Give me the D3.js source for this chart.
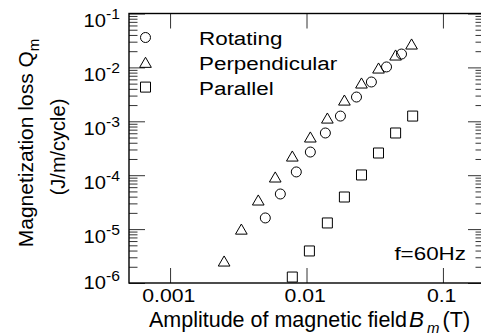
<!DOCTYPE html>
<html>
<head>
<meta charset="utf-8">
<script src="https://cdn.jsdelivr.net/npm/d3@7"></script>
<style>
  html, body { margin: 0; padding: 0; background: #fff; }
  svg { display: block; }
</style>
</head>
<body>
<svg id="chart" width="481" height="336"></svg>
<script>
// ── Data ─────────────────────────────────────────────────────────────────────
const rotB  = [0.00499, 0.00643, 0.00842, 0.01067, 0.01375, 0.01773, 0.02325, 0.0299, 0.0386, 0.0497]
const rotQ  = [1.61e-5, 4.48e-5, 1.15e-4, 2.69e-4, 6.07e-4, 1.25e-3, 2.82e-3, 5.36e-3, 1.02e-2, 1.77e-2]
const perpB = [0.00249, 0.00333, 0.00443, 0.0059, 0.00787, 0.01067, 0.01422, 0.01896, 0.02529, 0.03373, 0.04497, 0.0589]
const perpQ = [2.56e-6, 1.0e-5, 3.47e-5, 9.27e-5, 2.27e-4, 5.12e-4, 1.15e-3, 2.48e-3, 5.14e-3, 9.75e-3, 1.70e-2, 2.72e-2]
const parB  = [0.00787, 0.0105, 0.01422, 0.01896, 0.0253, 0.0337, 0.045, 0.06]
const parQ  = [1.29e-6, 3.93e-6, 1.30e-5, 3.94e-5, 1.01e-4, 2.58e-4, 6.07e-4, 1.25e-3]

const seriesNames = ['Rotating', 'Perpendicular', 'Parallel']
const seriesShapes = ['circle', 'triangle', 'square']

const xTickValues = [0.001, 0.01, 0.1]
const xTickLabels = ['0.001', '0.01', '0.1']
const yTickValues = [1e-1, 1e-2, 1e-3, 1e-4, 1e-5, 1e-6]
const yTickExps   = ['-1', '-2', '-3', '-4', '-5', '-6']

// ── Setup ─────────────────────────────────────────────────────────────────────
const FONT = "'Liberation Sans', Arial, sans-serif"
const SX = 1.18   // text in the reference is slightly wide
const L = 129, R = 484, T = 13.5, B = 283

const svg = d3.select('#chart')
const x = d3.scaleLog().domain([5e-4, 0.2]).range([L, R])
const y = d3.scaleLog().domain([1e-6, 1e-1]).range([B, T])

const yMinor = y.ticks().filter(v => !yTickValues.some(t => Math.abs(v / t - 1) < 1e-9))

// ── Axes (ticks inside on all four sides) ─────────────────────────────────────
const tickStyle = g => {
  g.select('.domain').remove()
  g.selectAll('.tick line').attr('stroke', '#333').attr('stroke-width', 1)
}

svg.append('g').attr('transform', `translate(0,${B})`)
  .call(d3.axisBottom(x).tickValues(xTickValues).tickFormat((d, i) => xTickLabels[i])
    .tickSizeInner(-15).tickSizeOuter(0).tickPadding(6))
  .call(tickStyle)
  .call(g => g.selectAll('text')
    .attr('font-family', FONT).attr('font-size', 18).attr('fill', '#000')
    .attr('x', -1.5).attr('transform', `scale(${SX},1)`))

svg.append('g').attr('transform', `translate(0,${T})`)
  .call(d3.axisTop(x).tickValues(xTickValues).tickFormat('').tickSizeInner(-15).tickSizeOuter(0))
  .call(tickStyle)

;[[d3.axisLeft, L], [d3.axisRight, R]].forEach(([axis, pos]) => {
  svg.append('g').attr('transform', `translate(${pos},0)`)
    .call(axis(y).tickValues(yTickValues).tickFormat('').tickSizeInner(-16).tickSizeOuter(0))
    .call(tickStyle)
  svg.append('g').attr('transform', `translate(${pos},0)`)
    .call(axis(y).tickValues(yMinor).tickFormat('').tickSizeInner(-8.5).tickSizeOuter(0))
    .call(tickStyle)
})

// frame
svg.append('rect')
  .attr('x', L).attr('y', T).attr('width', R - L).attr('height', B - T)
  .attr('fill', 'none').attr('stroke', '#000').attr('stroke-width', 1.4)

// y tick labels: 10 with superscript exponent
svg.append('g').selectAll('text').data(yTickValues).join('text')
  .attr('text-anchor', 'end')
  .attr('font-family', FONT).attr('font-size', 18)
  .attr('transform', d => `translate(120,${Math.min(y(d) + 13.5, 289)}) scale(1.12,1)`)
  .each(function (d, i) {
    const t = d3.select(this)
    t.append('tspan').text('10')
    t.append('tspan').attr('font-size', 14).attr('dy', -8).text(yTickExps[i])
  })

// ── Symbols ───────────────────────────────────────────────────────────────────
const TRI_SIZE = 59
const triOffset = Math.sqrt(TRI_SIZE * 4 / Math.sqrt(3)) * Math.sqrt(3) / 2 / 6
const symbolPath = {
  circle:   d3.symbol(d3.symbolCircle, 78.5)(),
  triangle: d3.symbol(d3.symbolTriangle, TRI_SIZE)(),
  square:   d3.symbol(d3.symbolSquare, 100)(),
}
const drawSymbol = (sel, shape) => sel
  .attr('d', symbolPath[shape])
  .attr('fill', 'none').attr('stroke', '#000').attr('stroke-width', 1)

const series = [
  { shape: 'circle',   pts: d3.zip(rotB, rotQ) },
  { shape: 'triangle', pts: d3.zip(perpB, perpQ) },
  { shape: 'square',   pts: d3.zip(parB, parQ) },
]

series.forEach(s => {
  const dy = s.shape === 'triangle' ? triOffset : 0
  svg.append('g').selectAll('path').data(s.pts).join('path')
    .attr('transform', d => `translate(${x(d[0])},${y(d[1]) + dy})`)
    .call(drawSymbol, s.shape)
})

// ── Legend ────────────────────────────────────────────────────────────────────
seriesNames.forEach((name, i) => {
  const cy = 37.5 + i * 24.8
  const dy = seriesShapes[i] === 'triangle' ? triOffset : 0
  svg.append('path')
    .attr('transform', `translate(145.5,${cy + dy})`)
    .call(drawSymbol, seriesShapes[i])
  svg.append('text')
    .attr('transform', `translate(199,${cy + 7.5}) scale(${SX},1)`)
    .attr('font-family', FONT).attr('font-size', 19)
    .text(name)
})

svg.append('text')
  .attr('transform', `translate(466,260) scale(${SX},1)`)
  .attr('text-anchor', 'end')
  .attr('font-family', FONT).attr('font-size', 19)
  .text('f=60Hz')

// ── Axis titles ───────────────────────────────────────────────────────────────
svg.append('text')
  .attr('x', 309.5).attr('y', 327)
  .attr('text-anchor', 'middle')
  .attr('font-family', FONT).attr('font-size', 21.5)
  .call(t => {
    t.append('tspan').text('Amplitude of magnetic field')
    t.append('tspan').attr('dx', 2).attr('font-style', 'italic').attr('font-size', 22.5).text('B')
    t.append('tspan').attr('dx', 3).attr('dy', 6).attr('font-style', 'italic').attr('font-size', 15).text('m')
    t.append('tspan').attr('dx', 3).attr('dy', -6).text('(T)')
  })

svg.append('text')
  .attr('transform', 'translate(33,143) rotate(-90)')
  .attr('text-anchor', 'middle')
  .attr('font-family', FONT).attr('font-size', 21)
  .call(t => {
    t.append('tspan').text('Magnetization loss Q')
    t.append('tspan').attr('dy', 6).attr('font-size', 15).text('m')
  })

svg.append('text')
  .attr('transform', 'translate(65,147) rotate(-90)')
  .attr('text-anchor', 'middle')
  .attr('font-family', FONT).attr('font-size', 20)
  .text('(J/m/cycle)')
</script>
</body>
</html>
